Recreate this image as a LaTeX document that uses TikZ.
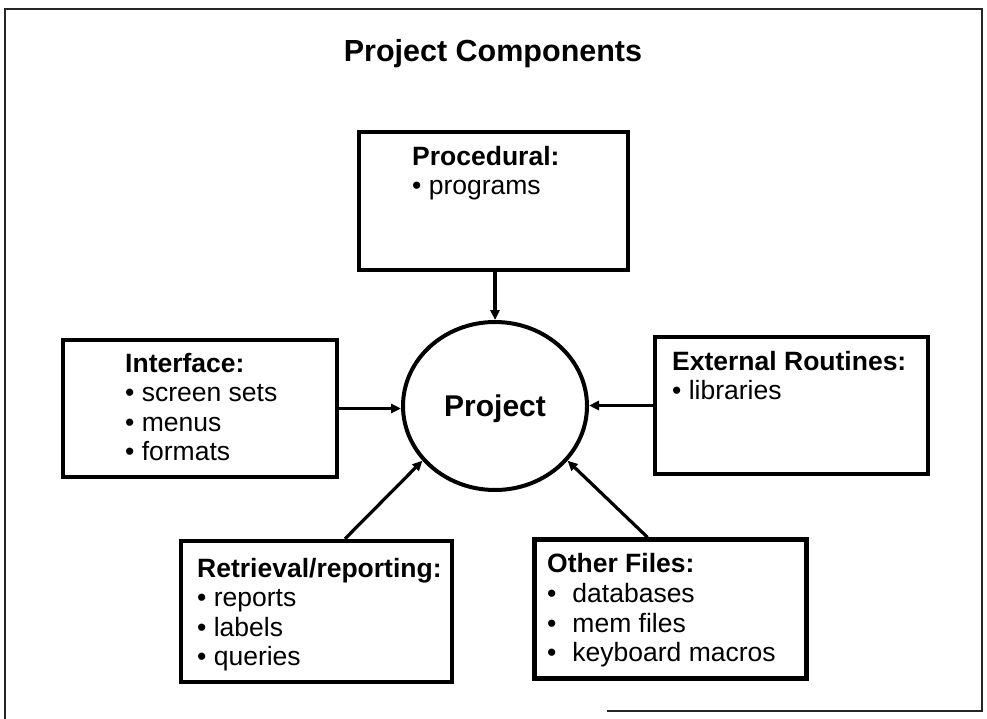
\documentclass[tikz,border=0pt]{standalone}
\usepackage{fontspec}
\setmainfont{Liberation Sans}
\usetikzlibrary{arrows.meta,shapes.geometric,calc}

\tikzset{
  compbox/.style={draw, line width=4.4pt, rectangle, inner sep=0pt},
  boxtext/.style={anchor=north west, inner sep=0pt, align=left,
    font=\fontsize{26.5}{29.5}\selectfont},
  feed/.style={line width=3.2pt, -{Triangle[length=10pt,width=9pt]}},
  frame/.style={line width=2pt, draw=black!85},
}

\begin{document}
\begin{tikzpicture}[x=1pt, y=-1pt]
  \useasboundingbox (0,0) rectangle (987,719);

  % outer frame
  \draw[frame] (607,711) -- (982,711) -- (982,9) -- (5,9) -- (5,719);

  % title
  \node[anchor=base, inner sep=0pt, font=\fontsize{30.5}{36}\selectfont\bfseries]
    (title) at (493,62) {Project Components};

  % central ellipse
  \node[draw, ellipse, line width=4pt, minimum width=184pt, minimum height=168pt,
        inner sep=0pt, text height=21.5pt, text depth=0pt,
        font=\fontsize{30}{36}\selectfont\bfseries]
    (proj) at (495,406) {Project};

  % component boxes
  \node[compbox, minimum width=269pt, minimum height=138pt] (proc)  at (493.5,201) {};
  \node[compbox, minimum width=274pt, minimum height=137pt] (iface) at (200,408.5) {};
  \node[compbox, minimum width=273pt, minimum height=137pt] (ext)   at (791.5,405.5) {};
  \node[compbox, minimum width=271pt, minimum height=141pt] (retr)  at (316.5,611.5) {};
  \node[compbox, minimum width=272pt, minimum height=139pt] (other) at (670.5,609) {};

  % box contents
  \node[boxtext] (proctxt) at (412,146)
    {\textbf{Procedural:}\\[-0.5pt] • programs};
  \node[boxtext] (ifacetxt) at (125,353)
    {\textbf{Interface:}\\ • screen sets\\ • menus\\ • formats};
  \node[boxtext] (exttxt) at (672,351)
    {\textbf{External Routines:}\\ • libraries};
  \node[boxtext] (retrtxt) at (197,558)
    {\textbf{Retrieval/reporting:}\\ • reports\\ • labels\\ • queries};
  \node[boxtext] (othertxt) at (547,553)
    {\textbf{Other Files:}\\[1pt]
     •\hspace{16pt}databases\\
     •\hspace{16pt}mem files\\
     •\hspace{16pt}keyboard macros};

  % connectors into the project
  \draw[feed] (proj.north |- proc.south) -- (proj.north);
  \draw[feed] (iface.east) -- (proj.west |- iface.east);
  \draw[feed] (ext.west) -- (proj.east |- ext.west);
  \draw[feed] ($(retr.north)+(28.5,0)$) -- (proj.217);
  \draw[feed] ($(other.north)+(-23,0)$) -- (proj.323);
\end{tikzpicture}
\end{document}
